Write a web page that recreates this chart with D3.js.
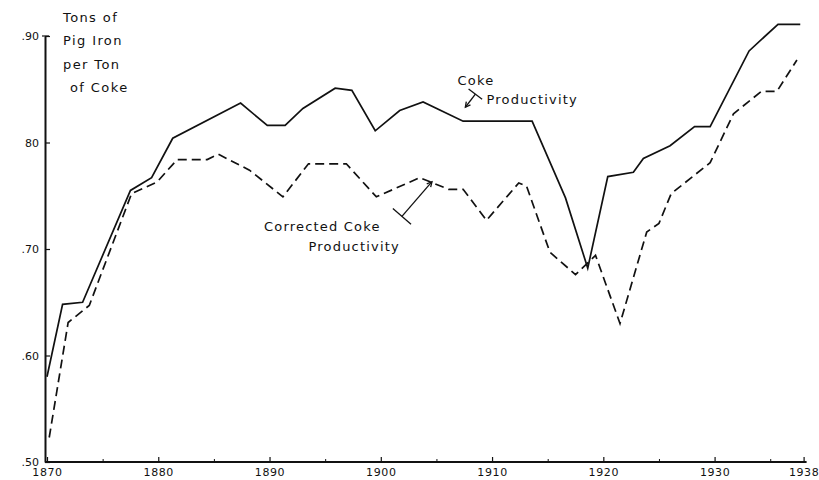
<!DOCTYPE html>
<html>
<head>
<meta charset="utf-8">
<script src="https://cdn.jsdelivr.net/npm/d3@7"></script>
<style>
  html, body { margin: 0; padding: 0; background: #fff; }
  svg { display: block; }
  text { font-family: "DejaVu Sans", sans-serif; fill: #111; }
</style>
</head>
<body>
<svg id="chart" width="819" height="480"></svg>
<script>
// ---- data ----
const cokeYears = [1870, 1871.4, 1873.2, 1877.5, 1879.4, 1881.3, 1887.4, 1889.8, 1891.4, 1893.0, 1895.9, 1897.4,
  1899.5, 1901.7, 1903.8, 1907.4, 1913.6, 1916.6, 1918.6, 1920.4, 1922.7, 1923.6, 1926.0, 1928.2, 1929.6,
  1933.1, 1935.7, 1937.7];
const cokeValues = [0.580, 0.648, 0.650, 0.755, 0.767, 0.804, 0.837, 0.816, 0.816, 0.832, 0.851, 0.849,
  0.811, 0.830, 0.838, 0.820, 0.820, 0.748, 0.682, 0.768, 0.772, 0.785, 0.797, 0.815, 0.815,
  0.886, 0.911, 0.911];

const correctedYears = [1870.2, 1871.9, 1873.8, 1877.6, 1879.9, 1881.7, 1884.4, 1885.4, 1888.2, 1891.2, 1893.5,
  1896.9, 1899.6, 1903.5, 1906.1, 1907.4, 1909.5, 1912.4, 1913.1, 1915.2, 1917.5, 1919.3, 1921.5, 1923.9,
  1925.0, 1926.1, 1929.6, 1931.7, 1934.2, 1935.6, 1937.4];
const correctedValues = [0.523, 0.631, 0.647, 0.752, 0.763, 0.784, 0.784, 0.789, 0.774, 0.749, 0.780,
  0.780, 0.749, 0.767, 0.756, 0.756, 0.727, 0.762, 0.759, 0.697, 0.676, 0.694, 0.630, 0.716,
  0.724, 0.752, 0.781, 0.827, 0.848, 0.848, 0.8775];

const xTickValues = [1870, 1880, 1890, 1900, 1910, 1920, 1930, 1938];
const xTickLabels = ["1870", "1880", "1890", "1900", "1910", "1920", "1930", "1938"];
const xMinorTicks = [1875, 1885, 1895, 1905, 1915, 1925, 1935];
const yTickValues = [0.50, 0.60, 0.70, 0.80, 0.90];
const yTickLabels = [".50", ".60", ".70", "80", ".90"];
const titleLines = ["Tons of", "Pig Iron", "per Ton", "of Coke"];
const cokeLabel = ["Coke", "Productivity"];
const correctedLabel = ["Corrected Coke", "Productivity"];

// ---- drawing ----
const svg = d3.select("#chart");
const x = d3.scaleLinear().domain([1870, 1938]).range([47, 803.6]);
const y = d3.scaleLinear().domain([0.5, 0.9]).range([462, 36]);
const axisX = 45, axisY = 462;

// x axis
const gx = svg.append("g").attr("transform", `translate(0,${axisY})`);
gx.call(d3.axisBottom(x).tickValues(xTickValues)
  .tickFormat((d, i) => xTickLabels[i]).tickSizeInner(-5).tickSizeOuter(0).tickPadding(6));
gx.select(".domain").remove();
gx.selectAll(".tick line").attr("stroke", "#111").attr("stroke-width", 1.2);
gx.selectAll(".tick text").attr("font-size", 11).attr("letter-spacing", 0.6)
  .style("font-family", '"DejaVu Sans", sans-serif').attr("fill", "#111");
const gxm = svg.append("g").attr("transform", `translate(0,${axisY})`);
gxm.call(d3.axisBottom(x).tickValues(xMinorTicks).tickFormat("").tickSizeInner(-3).tickSizeOuter(0));
gxm.select(".domain").remove();
gxm.selectAll(".tick line").attr("stroke", "#111").attr("stroke-width", 1);
svg.append("line")
  .attr("x1", axisX).attr("x2", x(1938) + 3)
  .attr("y1", axisY).attr("y2", axisY)
  .attr("stroke", "#111").attr("stroke-width", 2);

// y axis
const gy = svg.append("g").attr("transform", `translate(${axisX},0)`);
gy.call(d3.axisLeft(y).tickValues(yTickValues)
  .tickFormat((d, i) => yTickLabels[i]).tickSizeInner(-5).tickSizeOuter(0).tickPadding(6));
gy.select(".domain").attr("stroke", "#111").attr("stroke-width", 2);
gy.selectAll(".tick line").attr("stroke", "#111").attr("stroke-width", 1.2);
gy.selectAll(".tick text").attr("font-size", 11)
  .style("font-family", '"DejaVu Sans", sans-serif').attr("fill", "#111");
// small cap at top tick
svg.append("line").attr("x1", axisX - 3).attr("x2", axisX + 4)
  .attr("y1", y(0.9)).attr("y2", y(0.9)).attr("stroke", "#111").attr("stroke-width", 1.2);

// lines
const line = d3.line().x(d => x(d[0])).y(d => y(d[1]));
svg.append("path")
  .datum(cokeYears.map((yr, i) => [yr, cokeValues[i]]))
  .attr("d", line).attr("fill", "none").attr("stroke", "#111")
  .attr("stroke-width", 1.7).attr("stroke-linejoin", "miter");
svg.append("path")
  .datum(correctedYears.map((yr, i) => [yr, correctedValues[i]]))
  .attr("d", line).attr("fill", "none").attr("stroke", "#111")
  .attr("stroke-width", 1.7).attr("stroke-dasharray", "9,5");

// y title
svg.append("g").selectAll("text").data(titleLines).join("text")
  .attr("x", (d, i) => i === 3 ? 70 : 63)
  .attr("y", (d, i) => 17 + i * 23.5)
  .attr("dy", "0.35em")
  .attr("font-size", 13).attr("letter-spacing", 1.4)
  .text(d => d);

// annotations
function label(lines, xs, ys) {
  svg.append("g").selectAll("text").data(lines).join("text")
    .attr("x", (d, i) => xs[i]).attr("y", (d, i) => ys[i]).attr("dy", "0.35em")
    .attr("font-size", 13).attr("letter-spacing", 1.2).text(d => d);
}
label(cokeLabel, [x(1906.9), x(1909.5)], [y(0.8587), y(0.84)]);
label(correctedLabel, [x(1889.5), x(1893.5)], [y(0.7216), y(0.7028)]);

function tArrow(x0, y0, x1, y1, barLen) {
  const dx = x1 - x0, dy = y1 - y0, L = Math.hypot(dx, dy);
  const ux = dx / L, uy = dy / L, px = -uy, py = ux;
  const g = svg.append("g").attr("stroke", "#111").attr("stroke-width", 1.3).attr("fill", "none");
  g.append("line").attr("x1", x0).attr("y1", y0).attr("x2", x1).attr("y2", y1);
  g.append("line")
    .attr("x1", x0 + px * barLen / 2).attr("y1", y0 + py * barLen / 2)
    .attr("x2", x0 - px * barLen / 2).attr("y2", y0 - py * barLen / 2);
  const ah = 5, aw = 2.6;
  g.append("path").attr("d",
    `M${x1 - ux * ah + px * aw},${y1 - uy * ah + py * aw} L${x1},${y1} L${x1 - ux * ah - px * aw},${y1 - uy * ah - py * aw}`);
}
tArrow(x(1908.5), y(0.8455), x(1907.6), y(0.8331), 17);
tArrow(x(1901.9), y(0.7306), x(1904.6), y(0.7632), 24);
</script>
</body>
</html>
